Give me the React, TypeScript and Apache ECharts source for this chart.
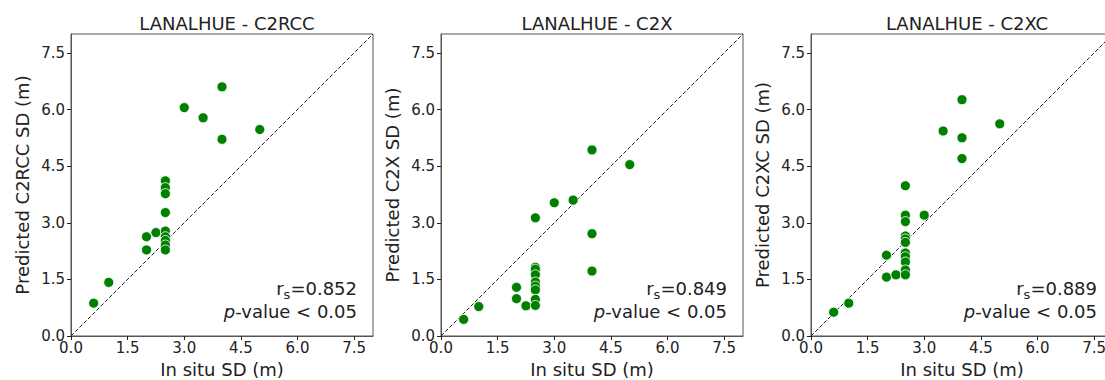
import React, { useEffect, useRef } from "react";
import * as echarts from "echarts";

const panelTitles = ["LANALHUE - C2RCC", "LANALHUE - C2X", "LANALHUE - C2XC"];
const yNames = ["Predicted C2RCC SD (m)", "Predicted C2X SD (m)", "Predicted C2XC SD (m)"];
const xName = "In situ SD (m)";
const tickValues = [0, 1.5, 3, 4.5, 6, 7.5];
const rsValues = ["0.852", "0.849", "0.889"];
const pText = "-value < 0.05";

const insitu1 = [0.6, 1.0, 2.0, 2.0, 2.25, 2.5, 2.5, 2.5, 2.5, 2.5, 2.5, 2.5, 2.5, 2.5, 3.0, 3.5, 4.0, 4.0, 5.0];
const pred1 = [0.87, 1.42, 2.63, 2.28, 2.74, 4.11, 3.93, 3.77, 3.27, 2.78, 2.63, 2.53, 2.41, 2.28, 6.05, 5.78, 6.6, 5.21, 5.47];

const insitu2 = [0.6, 1.0, 2.0, 2.0, 2.25, 2.5, 2.5, 2.5, 2.5, 2.5, 2.5, 2.5, 2.5, 2.5, 3.0, 3.5, 4.0, 4.0, 4.0, 5.0];
const pred2 = [0.44, 0.78, 1.29, 0.99, 0.8, 3.13, 1.82, 1.77, 1.62, 1.43, 1.32, 1.22, 0.97, 0.81, 3.53, 3.6, 4.93, 2.71, 1.72, 4.54];

const insitu3 = [0.6, 1.0, 2.0, 2.0, 2.25, 2.5, 2.5, 2.5, 2.5, 2.5, 2.5, 2.5, 2.5, 2.5, 2.5, 2.5, 3.0, 3.5, 4.0, 4.0, 4.0, 5.0];
const pred3 = [0.63, 0.87, 2.14, 1.56, 1.62, 3.98, 3.2, 3.03, 2.65, 2.57, 2.48, 2.2, 2.1, 1.96, 1.75, 1.62, 3.2, 5.43, 6.26, 5.25, 4.7, 5.62];

const identityLine = [
  [0, 0],
  [8, 8],
];

const insituAll = [insitu1, insitu2, insitu3];
const predAll = [pred1, pred2, pred3];

const FONT = "DejaVu Sans";

export default function App() {
  const ref = useRef<HTMLDivElement>(null);
  useEffect(() => {
    document.body.style.margin = "0";
    if (!ref.current) return;
    const chart = echarts.init(ref.current, null, { renderer: "svg" });
    const lefts = [71, 441, 811];
    const W = 302;
    const top = 34;
    const grid: any[] = [];
    const xAxis: any[] = [];
    const yAxis: any[] = [];
    const series: any[] = [];
    const title: any[] = [];
    const graphic: any[] = [];
    lefts.forEach((l, i) => {
      grid.push({
        left: l,
        top,
        width: W,
        height: W,
        show: true,
        borderColor: "#555",
        borderWidth: 1,
        backgroundColor: "transparent",
        containLabel: false,
        outerBoundsMode: "none",
      });
      const axisCommon = {
        type: "value",
        gridIndex: i,
        min: 0,
        max: 8,
        interval: 1.5,
        splitLine: { show: false },
        axisLine: { show: true, onZero: false, lineStyle: { color: "#555", width: 1 } },
        axisTick: {
          show: true,
          inside: false,
          length: 4,
          lineStyle: { color: "#222", width: 1 },
          customValues: tickValues,
        },
        axisLabel: {
          color: "#222",
          fontSize: 15,
          fontFamily: FONT,
          customValues: tickValues,
          formatter: (v: number) => v.toFixed(1),
        },
        nameLocation: "middle",
        nameTextStyle: { color: "#222", fontSize: 18, fontFamily: FONT },
      };
      xAxis.push({
        ...axisCommon,
        name: xName,
        nameGap: 24,
        axisLabel: { ...axisCommon.axisLabel, margin: 4 },
      });
      yAxis.push({
        ...axisCommon,
        name: yNames[i],
        nameGap: 40,
        axisLabel: { ...axisCommon.axisLabel, margin: 6 },
      });
      series.push({
        type: "line",
        xAxisIndex: i,
        yAxisIndex: i,
        data: identityLine,
        symbol: "none",
        lineStyle: { color: "#222", width: 1, type: [4, 2] },
        z: 1,
      });
      series.push({
        type: "scatter",
        xAxisIndex: i,
        yAxisIndex: i,
        data: insituAll[i].map((x, k) => [x, predAll[i][k]]),
        symbolSize: 10,
        itemStyle: { color: "#008000", borderColor: "#ffffff", borderWidth: 0.8, opacity: 1 },
        z: 3,
      });
      title.push({
        text: panelTitles[i],
        left: l + W / 2,
        top: 9,
        textAlign: "center",
        textStyle: { color: "#222", fontSize: 18, fontWeight: "normal", fontFamily: FONT },
      });
      graphic.push({
        type: "text",
        x: l + W - 16,
        y: 287,
        z: 10,
        style: {
          text: "{a|r}{b|s}{a|=" + rsValues[i] + "}",
          align: "right",
          verticalAlign: "middle",
          rich: {
            a: { fontSize: 18, fontFamily: FONT, fill: "#222", lineHeight: 20, verticalAlign: "bottom" },
            b: { fontSize: 13, fontFamily: FONT, fill: "#222", lineHeight: 20, verticalAlign: "bottom", padding: [0, 0, -4, 0] },
          },
        },
      });
      graphic.push({
        type: "text",
        x: l + W - 16,
        y: 311,
        z: 10,
        style: {
          text: "{i|p}{a|" + pText + "}",
          align: "right",
          verticalAlign: "middle",
          rich: {
            i: { fontSize: 18, fontFamily: FONT, fill: "#222", fontStyle: "italic", lineHeight: 20 },
            a: { fontSize: 18, fontFamily: FONT, fill: "#222", lineHeight: 20 },
          },
        },
      });
    });
    chart.setOption({
      animation: false,
      backgroundColor: "#ffffff",
      title,
      grid,
      xAxis,
      yAxis,
      series,
      graphic,
    });
    return () => chart.dispose();
  }, []);
  return (
    <div
      ref={ref}
      style={{ position: "absolute", left: 0, top: 0, width: 1105, height: 380 }}
    />
  );
}
